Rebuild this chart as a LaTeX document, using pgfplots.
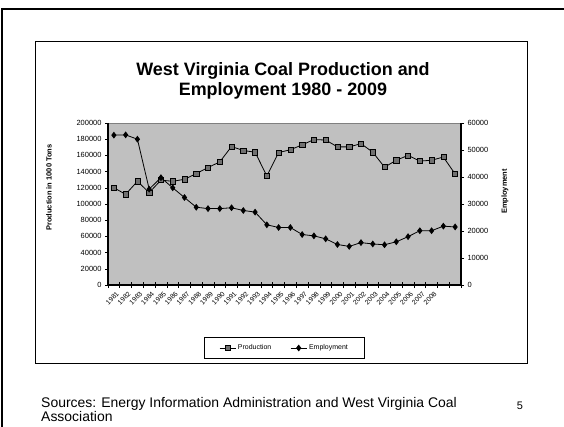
\documentclass[border=0pt]{standalone}
\usepackage{pgfplots}
\pgfplotsset{compat=1.18}
\usepackage{fontspec}
\setmainfont{Liberation Sans}
\definecolor{plotbg}{RGB}{192,192,192}
\definecolor{sqfill}{RGB}{112,112,112}

\pgfplotstableread{
x prod emp
0.5 120000 55500
1.5 112000 55600
2.5 128000 54000
3.5 114000 35500
4.5 129500 39750
5.5 128000 36000
6.5 130500 32400
7.5 137500 28800
8.5 145000 28300
9.5 152000 28300
10.5 171000 28600
11.5 166000 27600
12.5 164000 27000
13.5 134500 22300
14.5 163500 21300
15.5 167000 21300
16.5 173000 18700
17.5 179500 18200
18.5 179000 17100
19.5 170500 15000
20.5 170500 14300
21.5 174500 15700
22.5 164000 15200
23.5 145500 14900
24.5 154000 16000
25.5 160000 17900
26.5 153000 20100
27.5 154000 20100
28.5 158000 21800
29.5 137000 21500
}\coaldata

\pgfplotsset{
  common/.style={
    at={(108bp,141bp)}, anchor=south west,
    scale only axis, width=353bp, height=162bp,
    xmin=0, xmax=30,
    axis line style={draw=none},
    tick align=outside, major tick length=3bp,
    tick style={black, line width=0.6bp},
    tick label style={font=\fontsize{7.5}{9}\selectfont},
    /pgf/number format/assume math mode=true,
    /pgf/number format/set thousands separator={},
    /pgf/number format/fixed,
    /pgf/number format/precision=0,
    scaled y ticks=false,
    clip=false,
  },
  prodstyle/.style={black, line width=0.8bp, mark=square*, mark size=2.6bp,
    mark options={fill=sqfill, draw=black, line width=0.5bp}},
  empstyle/.style={black, line width=0.8bp, mark=diamond*, mark size=2.8bp,
    mark options={fill=black, draw=black}},
}

\begin{document}
\begin{tikzpicture}[x=1bp,y=1bp]
\path[use as bounding box] (0,0) rectangle (564,426);
% slide frame
\draw[line width=2bp] (2,-5) -- (2,417) -- (570,417);
% chart box
\draw[line width=0.9bp] (35,63) rectangle (527,384.5);
% title
\node[anchor=base, font=\bfseries\fontsize{18}{20}\selectfont, inner sep=0pt] at (283,351) {West Virginia Coal Production and};
\node[anchor=base, font=\bfseries\fontsize{18}{20}\selectfont, inner sep=0pt] at (283,331) {Employment 1980 - 2009};

\begin{axis}[common,
  ymin=0, ymax=200000, ytick={0,20000,...,200000},
  ytick pos=left,
  xtick={0.5,1.5,...,27.5},
  xticklabels={1981,1982,1983,1984,1985,1986,1987,1988,1989,1990,1991,1992,1993,1994,1995,1996,1997,1998,1999,2000,2001,2002,2003,2004,2005,2006,2007,2008},
  xtick style={draw=none},
  xticklabel style={rotate=45, anchor=north east, inner sep=0.5bp, font=\fontsize{6.8}{8}\selectfont, yshift=-3bp},
  axis background/.style={fill=plotbg, draw=gray, line width=0.5bp},
]
\addplot[prodstyle] table[x=x, y=prod] {\coaldata};
\draw[line width=1.4bp] (rel axis cs:0,1) -- (rel axis cs:0,0) -- (rel axis cs:1,0) -- (rel axis cs:1,1);
\pgfplotsinvokeforeach{0,...,30}{
  \draw[line width=0.6bp] (axis cs:#1,0) ++(0,-3bp) -- ++(0,6bp);
}
\end{axis}

\begin{axis}[common,
  ymin=0, ymax=60000, ytick={0,10000,...,60000},
  ytick pos=right,
  xtick=\empty,
  legend columns=2,
  legend style={at={(0.5,-0.389)}, anchor=center, draw=black, line width=0.8bp,
    font=\fontsize{7}{8}\selectfont, inner xsep=15bp, inner ysep=5bp,
    /tikz/every even column/.append style={column sep=17bp}},
  legend image code/.code={\draw[mark repeat=2, mark phase=2] plot coordinates {(0bp,0bp) (8bp,0bp) (16bp,0bp)};},
]
\addlegendimage{prodstyle}
\addlegendentry{Production}
\addplot[empstyle] table[x=x, y=emp] {\coaldata};
\addlegendentry{Employment}
\end{axis}

\node[rotate=90, font=\bfseries\fontsize{7.5}{9}\selectfont] at (49,238.5) {Production in 1000 Tons};
\node[rotate=90, font=\bfseries\fontsize{7.5}{9}\selectfont] at (505,234.5) {Employment};

\node[anchor=base west, font=\fontsize{14}{16}\selectfont, inner sep=0pt] at (41,19) {Sources: Energy Information Administration and West Virginia Coal};
\node[anchor=base west, font=\fontsize{14}{16}\selectfont, inner sep=0pt] at (41,5) {Association};
\node[anchor=base, font=\fontsize{11}{13}\selectfont, inner sep=0pt] at (520,17) {5};
\end{tikzpicture}
\end{document}
